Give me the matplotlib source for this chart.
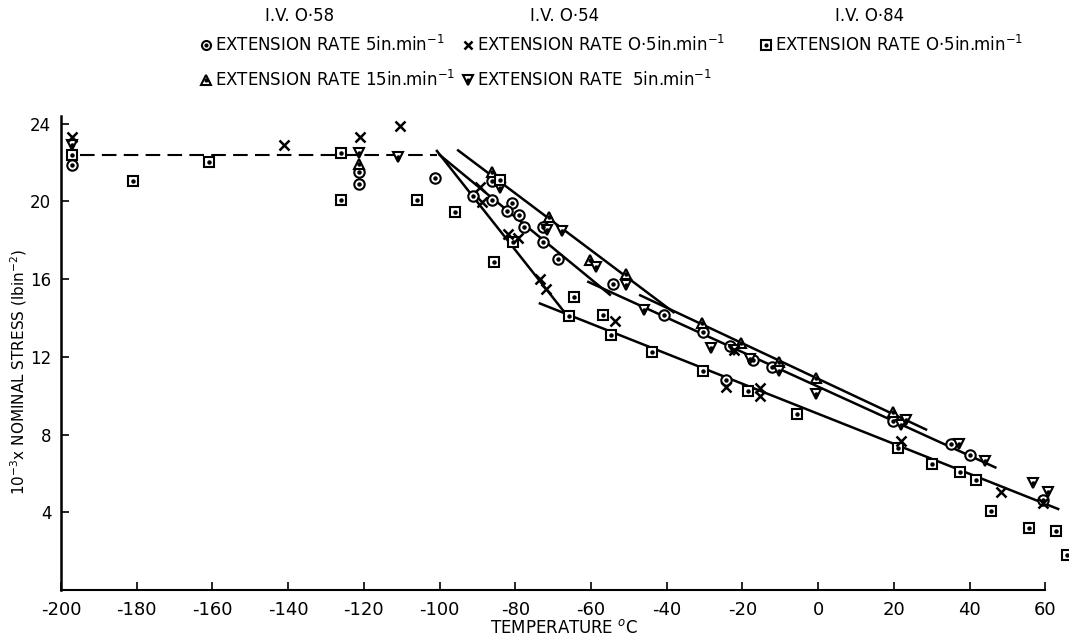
import numpy as np
import matplotlib.pyplot as plt

# I.V. 0.58, extension rate 5 in/min (circles)
t_c5 = [-197.2, -121.4, -121.4, -101.2, -86.2, -91.1, -86.2, -80.9, -82.2, -79.0, -77.7,
        -72.6, -72.7, -68.6, -54.1, -40.7, -30.5, -23.4, -17.2, -12.1, -24.3, 19.9, 35.0,
        40.0, 59.5]
s_c5 = [21.9, 21.5, 20.9, 21.2, 21.05, 20.27, 20.1, 19.9, 19.5, 19.3, 18.7,
        18.7, 17.9, 17.06, 15.74, 14.15, 13.29, 12.55, 11.84, 11.46, 10.8, 8.7, 7.52,
        6.93, 4.63]

# I.V. 0.58, extension rate 15 in/min (triangles up)
t_t15 = [-121.4, -86.2, -71.0, -60.2, -50.8, -30.6, -20.3, -10.3, -0.6, 19.7]
s_t15 = [21.95, 21.5, 19.2, 16.98, 16.29, 13.75, 12.7, 11.72, 10.9, 9.16]

# I.V. 0.54, extension rate 0.5 in/min (crosses)
t_x05 = [-197.2, -141.0, -121.0, -110.5, -89.3, -88.9, -81.8, -79.2, -73.6, -71.9,
         -53.6, -24.3, -22.3, -15.4, -15.4, 21.9, 48.3, 59.5]
s_x05 = [23.3, 22.9, 23.3, 23.9, 20.75, 19.97, 18.35, 18.1, 16.0, 15.47,
         13.86, 10.46, 12.36, 10.4, 10.0, 7.69, 5.07, 4.46]

# I.V. 0.54, extension rate 5 in/min (triangles down)
t_v5 = [-197.2, -121.4, -111.0, -84.0, -71.7, -67.7, -58.6, -50.7, -46.0, -28.4, -22.2,
        -18.1, -10.3, -0.6, 21.9, 23.1, 37.2, 44.1, 56.7, 60.7]
s_v5 = [22.9, 22.5, 22.3, 20.7, 18.55, 18.5, 16.63, 15.69, 14.4, 12.45, 12.35,
        11.9, 11.29, 10.08, 8.49, 8.73, 7.52, 6.66, 5.5, 5.03]

# I.V. 0.84, extension rate 0.5 in/min (squares)
t_s05 = [-197.2, -180.9, -160.9, -126.1, -126.1, -106.0, -95.9, -84.0, -85.6, -80.5,
         -65.7, -64.6, -56.7, -54.7, -43.8, -30.5, -18.5, -5.5, 21.0, 30.1, 37.4,
         41.6, 45.6, 55.6, 62.7, 65.8]
s_s05 = [22.4, 21.05, 22.03, 22.5, 20.1, 20.1, 19.46, 21.1, 16.9, 17.9,
         14.09, 15.09, 14.15, 13.12, 12.23, 11.29, 10.25, 9.04, 7.32, 6.48, 6.07,
         5.64, 4.06, 3.2, 3.06, 1.78]

# drawn lines (end points)
dash_t = [-195.0, -100.7]
dash_s = [22.4, 22.4]
lines = [
    ([-95.1, -38.2], [22.63, 14.3]),
    ([-47.0, 28.5], [15.17, 8.26]),
    ([-100.0, -55.0], [22.4, 15.2]),
    ([-60.7, 46.8], [15.86, 6.31]),
    ([-100.7, -66.4], [22.6, 14.15]),
    ([-73.5, 63.4], [14.75, 4.17]),
]

xticks = list(range(-200, 61, 20))
yticks = [4, 8, 12, 16, 20, 24]

plt.rcParams['font.family'] = 'DejaVu Sans'
plt.rcParams['axes.unicode_minus'] = False

fig = plt.figure(figsize=(10.73, 6.39), dpi=100)
ax = fig.add_axes([61/1073, 49/639, 1007/1073, 474/639])


def dotted(ax, x, y, marker, ms=7.5, **kw):
    ax.plot(x, y, ls='none', marker=marker, ms=ms, mfc='white', mec='k',
            mew=1.5, zorder=3, **kw)
    ax.plot(x, y, ls='none', marker='o', ms=2.2, color='k', zorder=4, **kw)


ax.plot(dash_t, dash_s, color='k', lw=1.5, dashes=(7, 3.5), zorder=2)
for lt, ls_ in lines:
    ax.plot(lt, ls_, color='k', lw=1.8, zorder=2)

dotted(ax, t_c5, s_c5, 'o')
dotted(ax, t_t15, s_t15, '^')
dotted(ax, t_v5, s_v5, 'v')
dotted(ax, t_s05, s_s05, 's', ms=7)
ax.plot(t_x05, s_x05, ls='none', marker='x', ms=7, mec='k', mew=1.8, zorder=4)

ax.set_xlim(-200, 66)
ax.set_ylim(0, 24.4)
ax.spines['top'].set_visible(False)
ax.spines['right'].set_visible(False)
ax.spines['bottom'].set_bounds(-200, 60)
ax.spines['left'].set_linewidth(1.8)
ax.spines['bottom'].set_linewidth(1.5)
ax.set_xticks(xticks)
ax.set_yticks(yticks)
ax.tick_params(direction='in', length=6, width=1.2, pad=8)
ax.tick_params(axis='x', labelsize=13)
ax.tick_params(axis='y', labelsize=12, pad=7)
ax.set_xlabel('TEMPERATURE $^{o}$C', fontsize=12, labelpad=0)
ax.set_ylabel('10$^{-3}$x NOMINAL STRESS (lbin$^{-2}$)', fontsize=11)
ax.yaxis.set_label_coords(-32 / 1007, 0.46)

# legend drawn at the top of the figure
W, H = 1073.0, 639.0


def fx(px):
    return px / W


def fy(py):
    return 1 - py / H


for label, px in [('I.V. O·58', 300), ('I.V. O·54', 565), ('I.V. O·84', 870)]:
    fig.text(fx(px), fy(16), label, ha='center', va='center', fontsize=12)

leg_items = [
    ('o', 206, 45, 'EXTENSION RATE 5in.min$^{-1}$'),
    ('x', 468, 45, 'EXTENSION RATE O·5in.min$^{-1}$'),
    ('s', 766, 45, 'EXTENSION RATE O·5in.min$^{-1}$'),
    ('^', 206, 80, 'EXTENSION RATE 15in.min$^{-1}$'),
    ('v', 468, 80, 'EXTENSION RATE  5in.min$^{-1}$'),
]
for m, px, py, txt in leg_items:
    if m == 'x':
        fig.lines.append(plt.Line2D([fx(px)], [fy(py)], marker='x', ms=6, mec='k', mew=1.8,
                                    ls='none', transform=fig.transFigure))
    else:
        fig.lines.append(plt.Line2D([fx(px)], [fy(py)], marker=m, ms=6.5, mfc='white', mec='k',
                                    mew=1.5, ls='none', transform=fig.transFigure))
        fig.lines.append(plt.Line2D([fx(px)], [fy(py)], marker='o', ms=2, color='k',
                                    ls='none', transform=fig.transFigure))
    fig.text(fx(px + 9), fy(py), txt, ha='left', va='center', fontsize=12)

fig.savefig('out.png', dpi=100)
